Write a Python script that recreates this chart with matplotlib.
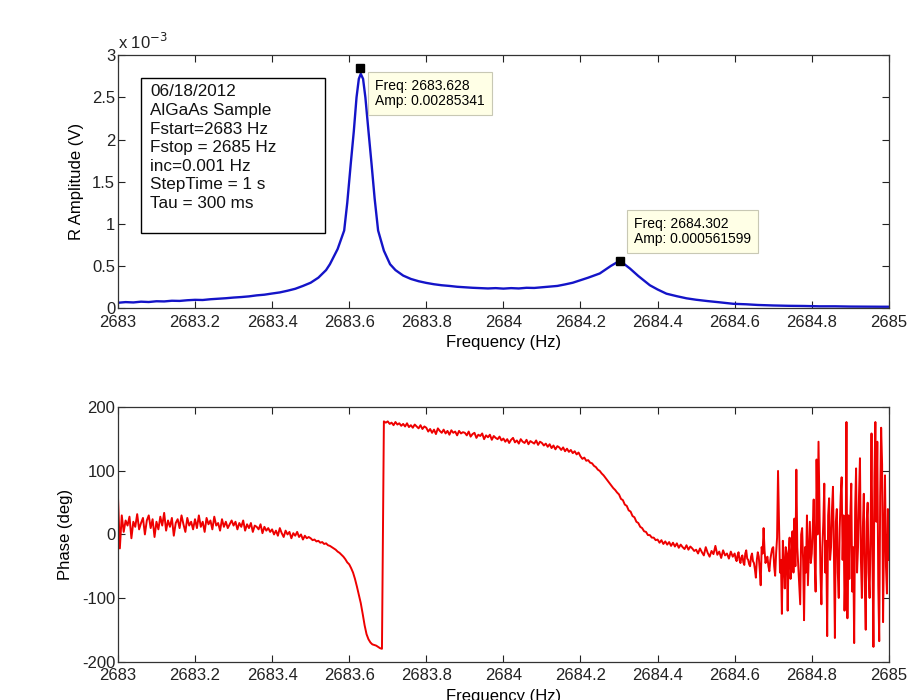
import numpy as np
import matplotlib
matplotlib.use('Agg')
import matplotlib.pyplot as plt
from matplotlib.patches import Rectangle
from matplotlib.ticker import FuncFormatter, MultipleLocator

plt.rcParams['font.family'] = ['Liberation Sans', 'DejaVu Sans']
plt.rcParams['axes.unicode_minus'] = False

# amplitude
amp_freq = [2683.00, 2683.02, 2683.04, 2683.06, 2683.08, 2683.10, 2683.12, 2683.14,
            2683.16, 2683.18, 2683.20, 2683.22, 2683.24, 2683.26, 2683.28, 2683.30,
            2683.32, 2683.34, 2683.36, 2683.38, 2683.40, 2683.42, 2683.44, 2683.46,
            2683.48, 2683.50, 2683.52, 2683.54, 2683.55, 2683.57, 2683.587, 2683.595,
            2683.604, 2683.612, 2683.619, 2683.625, 2683.630, 2683.636, 2683.642,
            2683.650, 2683.658, 2683.666, 2683.675, 2683.690, 2683.706, 2683.72,
            2683.74, 2683.76, 2683.78, 2683.80, 2683.82, 2683.84, 2683.86, 2683.88,
            2683.90, 2683.92, 2683.94, 2683.96, 2683.98, 2684.00, 2684.02, 2684.04,
            2684.06, 2684.08, 2684.10, 2684.12, 2684.14, 2684.16, 2684.18, 2684.20,
            2684.22, 2684.25, 2684.279, 2684.302, 2684.328, 2684.35, 2684.38,
            2684.40, 2684.423, 2684.45, 2684.475, 2684.50, 2684.53, 2684.56,
            2684.596, 2684.63, 2684.66, 2684.70, 2684.74, 2684.78, 2684.82,
            2684.86, 2684.90, 2684.94, 2684.98, 2685.00]
amp_mv = [0.062, 0.070, 0.066, 0.075, 0.071, 0.080, 0.078, 0.086, 0.084, 0.092,
          0.097, 0.095, 0.104, 0.110, 0.116, 0.124, 0.130, 0.138, 0.150, 0.158,
          0.172, 0.185, 0.205, 0.228, 0.262, 0.300, 0.360, 0.450, 0.520, 0.700,
          0.920, 1.250, 1.710, 2.100, 2.500, 2.720, 2.780, 2.720, 2.500, 2.100,
          1.710, 1.300, 0.920, 0.680, 0.520, 0.450, 0.385, 0.345, 0.318, 0.298,
          0.282, 0.270, 0.262, 0.252, 0.246, 0.240, 0.236, 0.232, 0.236, 0.230,
          0.236, 0.232, 0.240, 0.238, 0.246, 0.254, 0.262, 0.280, 0.300, 0.330,
          0.360, 0.410, 0.500, 0.5616, 0.470, 0.380, 0.270, 0.220, 0.170, 0.140,
          0.115, 0.098, 0.082, 0.068, 0.050, 0.044, 0.036, 0.030, 0.026, 0.024,
          0.020, 0.020, 0.017, 0.016, 0.015, 0.015]
amp = np.array(amp_mv) * 1e-3

peak_freq = [2683.628, 2684.302]
peak_amp = [0.00285341, 0.000561599]

# phase (deg): every 0.005 Hz up to 2684.595,
# then every 0.0025 Hz over the noisy tail
phase_freq = np.round(np.concatenate([np.arange(320) * 0.005 + 2683.0,
                                      np.arange(161) * 0.0025 + 2684.6]), 4)
phase = [
    62, -22, 30, 4, 22, 14, 28, -6, 20, 12, 32, 8, 18, 26, 0, 22, 30, 10, 24, -4,
    20, 8, 28, 14, 34, 6, 22, 12, 26, -2, 18, 24, 10, 30, 16, 4, 26, 14, 20, 8,
    24, 10, 30, 12, 20, 4, 26, 16, 22, 8, 28, 14, 18, 6, 24, 12, 20, 10, 16, 22,
    14, 20, 8, 18, 12, 22, 6, 16, 10, 18, 4, 14, 12, 8, 16, 2, 12, 6, 10, 4,
    8, 0, 6, -2, 10, 2, -4, 6, 0, 4, -6, 2, -2, 4, -4, 0, -8, -2, -6, -4,
    -6, -9, -8, -11, -10, -13, -12, -15, -14, -17, -18, -20, -22, -24, -27, -29, -32, -35, -39, -44,
    -47, -53, -60, -70, -82, -95, -108, -125, -143, -157, -165, -170, -173, -174, -175, -177, -179, -180, 178, 176,
    178, 174, 176, 172, 177, 173, 175, 171, 174, 170, 175, 169, 172, 168, 173, 170, 167, 172, 166, 170,
    168, 162, 166, 160, 165, 158, 167, 163, 160, 165, 159, 163, 157, 164, 160, 162, 156, 163, 159, 161,
    160, 156, 162, 154, 158, 160, 152, 157, 155, 159, 150, 156, 153, 157, 149, 155, 152, 150, 154, 148,
    151, 146, 150, 144, 149, 152, 145, 148, 143, 150, 146, 144, 149, 142, 147, 145, 143, 148, 141, 146,
    144, 140, 143, 138, 142, 136, 140, 134, 139, 137, 133, 137, 131, 135, 130, 133, 128, 131, 126, 129,
    123, 119, 121, 116, 117, 113, 112, 108, 106, 102, 100, 96, 93, 89, 85, 81, 77, 73, 70, 66,
    63, 56, 54, 47, 45, 38, 36, 29, 27, 20, 18, 12, 10, 5, 4, -1, -1, -5, -5, -9,
    -8, -13, -9, -15, -11, -16, -12, -18, -13, -19, -14, -21, -16, -20, -23, -17, -24, -19, -22, -26,
    -24, -30, -22, -28, -33, -20, -29, -35, -26, -31, -18, -32, -27, -37, -25, -33, -30, -38, -27, -35,
    # 2684.600 onwards, 0.0025 Hz steps
    -30, -38, -42, -33, -28, -40, -45, -36, -33, -44, -48, -30, -25, -38, -40, -47, -50, -35, -30, -42,
    -45, -55, -68, -40, -28, -35, -55, -80, -20, -30, 10, -25, -45, -38, -35, -50, -58, -40, -30, -22,
    -20, -50, -65, -30, -5, 100, 20, -60, -40, -125, -10, -45, -85, -20, -30, -120, -30, -5, -70, -40,
    5, -60, 25, -50, 102, -20, -50, -80, -110, 0, 10, -40, -135, -20, -60, 30, -80, -30, 20, -45,
    -30, 10, 55, -40, -90, 118, 0, 146, 40, -60, -110, -20, 20, 80, -60, -10, -160, 30, 57, -40,
    -20, 40, 75, -30, -163, 20, 40, -60, -100, 10, 60, 90, -40, 30, -120, -50, 177, -132, 30, -70,
    30, 80, -90, -20, -171, 40, 104, -60, -20, 60, 120, -40, -100, 10, 64, -80, -150, 20, 50, -60,
    -100, 0, 159, -40, -177, 90, 177, 20, 146, -80, -168, 60, 168, 110, -138, 0, 93, -50, -93, 40,
    -40,
]

fig = plt.figure(figsize=(9.07, 7.0), dpi=100)
ax1 = fig.add_axes([0.130, 0.560, 0.850, 0.361])
ax2 = fig.add_axes([0.130, 0.055, 0.850, 0.363])

fmt = FuncFormatter(lambda v, p: '%g' % round(v, 4))
for ax in (ax1, ax2):
    ax.set_xlim(2683, 2685)
    ax.xaxis.set_major_locator(MultipleLocator(0.2))
    ax.xaxis.set_major_formatter(fmt)
    ax.tick_params(direction='in', top=True, right=True, length=5, width=0.8,
                   labelsize=12, pad=2, colors='#222222')
    ax.tick_params(axis='x', pad=5)
    for s in ax.spines.values():
        s.set_linewidth(0.9)
        s.set_color('#333333')

# top panel
ax1.plot(amp_freq, amp, color='#1414c8', lw=1.7)
ax1.plot(peak_freq, peak_amp, 's', color='black', ms=6, ls='none')
ax1.set_ylim(0, 3e-3)
ax1.yaxis.set_major_locator(MultipleLocator(0.5e-3))
ax1.yaxis.set_major_formatter(FuncFormatter(lambda v, p: '%g' % round(v * 1e3, 3)))
ax1.text(0.0, 1.012, 'x 10$^{-3}$', transform=ax1.transAxes, fontsize=12,
         ha='left', va='bottom', color='#222222')
ax1.set_xlabel('Frequency (Hz)', fontsize=12, labelpad=4)
ax1.set_ylabel('R Amplitude (V)', fontsize=12, labelpad=6)

ax1.add_patch(Rectangle((0.030, 0.296), 0.238, 0.613, transform=ax1.transAxes,
                        fill=False, edgecolor='black', lw=1.0))
ax1.text(0.042, 0.885, '06/18/2012\nAlGaAs Sample\nFstart=2683 Hz\nFstop = 2685 Hz\n'
         'inc=0.001 Hz\nStepTime = 1 s\nTau = 300 ms',
         transform=ax1.transAxes, fontsize=12.3, va='top', ha='left',
         linespacing=1.3, color='#111111')

tip = dict(boxstyle='square,pad=0.5', facecolor='#ffffe6', edgecolor='#c8c8b4', lw=0.8)
ax1.annotate('Freq: %.3f\nAmp: %s' % (peak_freq[0], peak_amp[0]),
             xy=(peak_freq[0], peak_amp[0]), xytext=(15, -11), textcoords='offset pixels',
             fontsize=10, ha='left', va='top', bbox=tip, linespacing=1.15)
ax1.annotate('Freq: %.3f\nAmp: %s' % (peak_freq[1], peak_amp[1]),
             xy=(peak_freq[1], peak_amp[1]), xytext=(14, 44), textcoords='offset pixels',
             fontsize=10, ha='left', va='top', bbox=tip, linespacing=1.15)

# bottom panel
ax2.plot(phase_freq, phase, color='#ee0000', lw=1.4)
ax2.set_ylim(-200, 200)
ax2.yaxis.set_major_locator(MultipleLocator(100))
ax2.set_xlabel('Frequency (Hz)', fontsize=12, labelpad=4)
ax2.set_ylabel('Phase (deg)', fontsize=12, labelpad=6)

fig.savefig('out.png', dpi=100)
